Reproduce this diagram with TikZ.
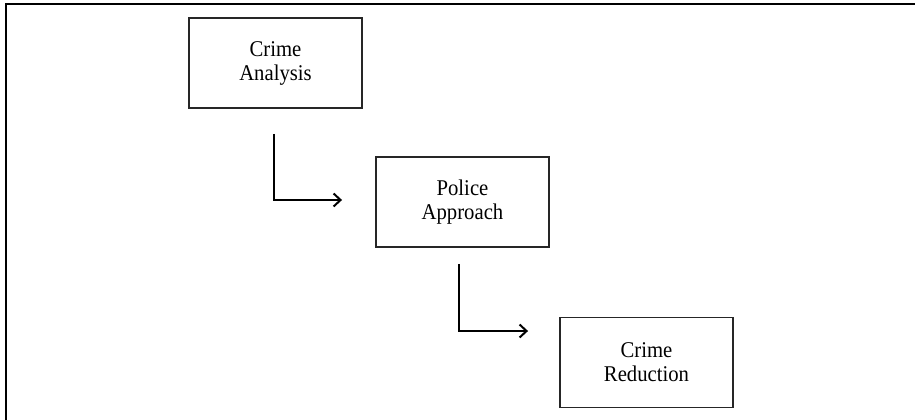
\documentclass[tikz,border=0pt]{standalone}
\usepackage{fontspec}
\setmainfont{Liberation Serif}[FakeStretch=0.92]
\usetikzlibrary{arrows.meta}
\begin{document}
\begin{tikzpicture}[x=1pt,y=-1pt,
  stagebox/.style={draw=black!85,line width=1.9pt,rectangle,minimum width=173pt,minimum height=90pt,
    align=center,font=\fontsize{22.5pt}{24pt}\selectfont,inner sep=0pt},
  flowline/.style={draw=black,line width=2pt,-{Straight Barb[length=7pt,width=13pt,line width=2pt]}}]
\useasboundingbox (0,0) rectangle (915,420);
\draw[line width=2pt] (5.5,420) -- (5.5,4.5) -- (915,4.5);
\node[stagebox] (A) at (275.5,63) {Crime\\Analysis};
\node[stagebox] (B) at (462.5,202) {Police\\Approach};
\node[stagebox] (C) at (646.5,362.5) {Crime\\Reduction};
\draw[flowline,shorten <=25pt,shorten >=33pt] ([xshift=-1.5pt]A.south) |- ([yshift=2pt]B.west);
\draw[flowline,shorten <=16pt,shorten >=31pt] ([xshift=-3.5pt]B.south) |- ([yshift=31.5pt]C.west);
\end{tikzpicture}
\end{document}
